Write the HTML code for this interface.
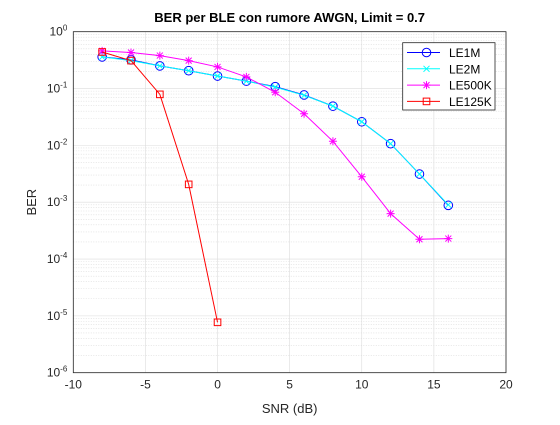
<!DOCTYPE html>
<html><head><meta charset="utf-8"><style>
body{margin:0;background:#fff}
svg{font-family:"Liberation Sans",sans-serif}
</style></head><body>
<svg id="c" width="560" height="420"></svg>
<script>
const snr=[-8,-6,-4,-2,0,2,4,6,8,10,12,14,16];
const le1m=[0.36,0.32,0.25,0.206,0.166,0.135,0.108,0.077,0.049,0.026,0.0107,0.00313,0.00088];
const le2m=[0.36,0.31,0.25,0.206,0.166,0.135,0.106,0.076,0.049,0.026,0.0107,0.00313,0.00090];
const le500k=[0.46,0.43,0.38,0.31,0.24,0.16,0.086,0.036,0.0118,0.0028,0.00063,0.000223,0.000229];
const snr125=[-8,-6,-4,-2,0];
const le125k=[0.44,0.31,0.079,0.00206,0.0000077];
const xTicks=[-10,-5,0,5,10,15,20];
const yExp=[0,-1,-2,-3,-4,-5,-6];
const L=73.3,R=506,T=31.7,B=372.7;
const X=v=>L+(v+10)/30*(R-L);
const Y=v=>T+(-Math.log10(v))/6*(B-T);
const NS="http://www.w3.org/2000/svg";
const svg=document.getElementById('c');
function el(t,a,p){const e=document.createElementNS(NS,t);for(const k in a)e.setAttribute(k,a[k]);(p||svg).appendChild(e);return e;}
el('rect',{x:L,y:T,width:R-L,height:B-T,fill:'#fff'});
const grid=el('g',{});


for(let d=0;d<6;d++)for(let m=2;m<=9;m++){const y=Y(Math.pow(10,-d-1)*m);
el('line',{x1:L,x2:R,y1:y,y2:y,stroke:'#d8d8d8','stroke-width':0.6,'stroke-dasharray':'1,1.5'},grid);}
xTicks.forEach(t=>{const x=X(t);el('line',{x1:x,x2:x,y1:T,y2:B,stroke:'#dcdcdc','stroke-width':0.6},grid);
const tx=el('text',{x:x,y:B+16,'font-size':'12','text-anchor':'middle',fill:'#262626'});tx.textContent=t;

});
yExp.forEach(e=>{const y=Y(Math.pow(10,e));el('line',{x1:L,x2:R,y1:y,y2:y,stroke:'#dcdcdc','stroke-width':0.6},grid);
const tx=el('text',{x:L-6,y:y+4,'font-size':'12','text-anchor':'end',fill:'#262626'});


const a=el('tspan',{},tx);a.textContent='10';const b=el('tspan',{dy:-5,'font-size':'8'},tx);b.textContent=e;});
el('rect',{x:L,y:T,width:R-L,height:B-T,fill:'none',stroke:'#262626','stroke-width':0.8});
function series(xs,ys,color,mk,name){const g=el('g',{});


el('polyline',{points:xs.map((x,i)=>X(x)+','+Y(ys[i])).join(' '),fill:'none',stroke:color,'stroke-width':1},g);
xs.forEach((x,i)=>marker(X(x),Y(ys[i]),color,mk,g));}
function marker(x,y,c,mk,g){
if(mk==='o')el('circle',{cx:x,cy:y,r:4.3,fill:'none',stroke:c,'stroke-width':1},g);
else if(mk==='x'){el('path',{d:`M${x-3} ${y-3}L${x+3} ${y+3}M${x-3} ${y+3}L${x+3} ${y-3}`,stroke:c,'stroke-width':1},g);}
else if(mk==='*'){el('path',{d:`M${x-4} ${y}L${x+4} ${y}M${x} ${y-4}L${x} ${y+4}M${x-3} ${y-3}L${x+3} ${y+3}M${x-3} ${y+3}L${x+3} ${y-3}`,stroke:c,'stroke-width':1},g);}
else if(mk==='s')el('rect',{x:x-3.3,y:y-3.3,width:6.6,height:6.6,fill:'none',stroke:c,'stroke-width':1},g);}
series(snr,le1m,'#0000ff','o','series-le1m');
series(snr,le2m,'#00ffff','x','series-le2m');
series(snr,le500k,'#ff00ff','*','series-le500k');
series(snr125,le125k,'#ff0000','s','series-le125k');
const lg=el('g',{});


el('rect',{x:402.7,y:42.7,width:92.3,height:67.3,fill:'#fff',stroke:'#262626','stroke-width':0.8},lg);
[['LE1M','#0000ff','o'],['LE2M','#00ffff','x'],['LE500K','#ff00ff','*'],['LE125K','#ff0000','s']].forEach((s,i)=>{
const y=52.5+i*16.3;el('line',{x1:407,x2:440,y1:y,y2:y,stroke:s[1],'stroke-width':1},lg);marker(426.5,y,s[1],s[2],lg);
const t=el('text',{x:449,y:y+4.5,'font-size':'12',fill:'#000'},lg);t.textContent=s[0];});
const ti=el('text',{x:(L+R)/2,y:22,'font-size':'13','font-weight':'bold','text-anchor':'middle',fill:'#000'});
ti.textContent='BER per BLE con rumore AWGN, Limit = 0.7';


const xl=el('text',{x:(L+R)/2,y:413,'font-size':'13','text-anchor':'middle',fill:'#262626'});
xl.textContent='SNR (dB)';


const yl=el('text',{x:0,y:0,'font-size':'13','text-anchor':'middle',fill:'#262626',transform:`translate(36,${(T+B)/2}) rotate(-90)`});
yl.textContent='BER';


</script>
</body></html>
